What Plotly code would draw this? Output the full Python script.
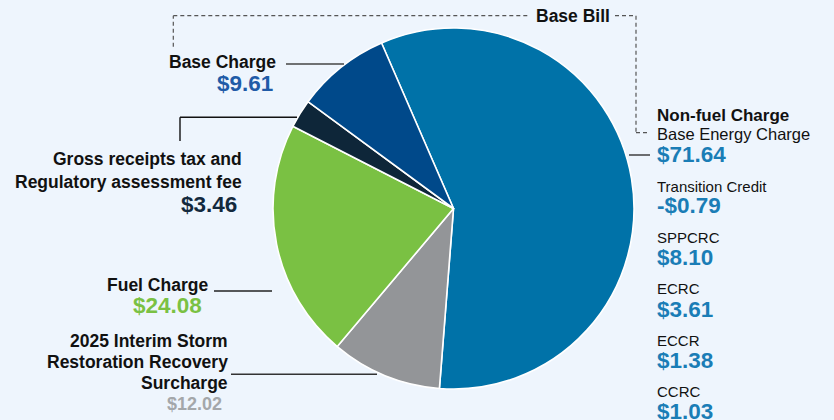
import plotly.graph_objects as go

# ---------------- data ----------------
# pie slices, clockwise from the top-left boundary
slice_names = ["Non-fuel Charge",
               "2025 Interim Storm Restoration Recovery Surcharge",
               "Fuel Charge",
               "Gross receipts tax and Regulatory assessment fee",
               "Base Charge"]
# share of the circle each slice occupies (percent)
slice_share_pct = [57.8, 9.9, 21.4, 2.55, 8.4]
slice_colors = ["#0072A8", "#939598", "#7AC143", "#0E2639", "#00498A"]

# left-hand labels and amounts
left_labels = ["Base Charge",
               "Gross receipts tax and|Regulatory assessment fee",
               "Fuel Charge",
               "2025 Interim Storm|Restoration Recovery|Surcharge"]
left_amounts = [9.61, 3.46, 24.08, 12.02]
left_amount_colors = ["#1F5BA7", "#13293D", "#7AC143", "#A4A7AA"]

# non-fuel components (right-hand list)
nonfuel_names = ["Base Energy Charge", "Transition Credit", "SPPCRC", "ECRC", "ECCR", "CCRC"]
nonfuel_amounts = [71.64, -0.79, 8.10, 3.61, 1.38, 1.03]

group_title = "Base Bill"
nonfuel_title = "Non-fuel Charge"

# ---------------- layout helpers ----------------
W, H = 834, 420
BG = "#EEF5FD"
FONT = "Liberation Sans, Arial, Helvetica, sans-serif"
AMT_BLUE = "#1A7DB6"


def px(x):
    return x / W


def py(y):
    return 1 - y / H


def money(v):
    return ("-$%.2f" % abs(v)) if v < 0 else ("$%.2f" % v)


annotations = []


def text(t, x, baseline, size, bold=False, color="#111111", anchor="left"):
    cy = baseline - 0.35 * size
    annotations.append(dict(
        text=("<b>%s</b>" % t) if bold else t,
        x=px(x), y=py(cy), xref="paper", yref="paper",
        xanchor=anchor, yanchor="middle", showarrow=False,
        font=dict(family=FONT, size=size, color=color),
    ))


fig = go.Figure()
fig.add_trace(go.Pie(
    labels=slice_names, values=slice_share_pct, sort=False,
    direction="clockwise", rotation=-23.5,
    marker=dict(colors=slice_colors, line=dict(color="white", width=1.6)),
    textinfo="none", hoverinfo="label", showlegend=False,
    domain=dict(x=[px(273), px(634)], y=[py(389), py(28)]),
))

# ---- left labels ----
left_pos = [  # (label right edge, first baseline, line step, amount right edge, amount baseline, amount size)
    (278, 68.3, 22.7, 275, 91.7, 22.5),
    (244, 165.0, 22.7, 239, 212.0, 22.5),
    (210, 291.0, 22.7, 203.5, 313.3, 22.5),
    (230, 346.7, 21.3, 223.5, 410.7, 18),
]
for lab, amt, col, (rx, b0, step, ax, ab, asz) in zip(left_labels, left_amounts, left_amount_colors, left_pos):
    for i, line in enumerate(lab.split("|")):
        text(line, rx, b0 + i * step, 17.5, bold=True, anchor="right")
    text(money(amt), ax, ab, asz, bold=True, color=col, anchor="right")

# ---- right labels ----
RX = 655
text(nonfuel_title, RX, 121, 17, bold=True)
right_label_base = [140, 192, 242.7, 294, 345.3, 396.7]
right_amt_base = [162.7, 213.5, 265, 317.3, 368.7, 419]
for i, (n, v) in enumerate(zip(nonfuel_names, nonfuel_amounts)):
    text(n, RX, right_label_base[i], 16.5 if i == 0 else 15)
    text(money(v), RX, right_amt_base[i], 22.5, bold=True, color=AMT_BLUE)

# ---- group title ----
text(group_title, 534, 22.3, 17.5, bold=True, color="#111111")

# ---- leader lines ----
shapes = []
LC = "#333333"


def seg(x0, y0, x1, y1, color=LC, width=1.4, dash=None):
    shapes.append(dict(type="line", xref="paper", yref="paper",
                       x0=px(x0), y0=py(y0), x1=px(x1), y1=py(y1),
                       line=dict(color=color, width=width, dash=dash)))


seg(286, 64, 344, 64, color="#444444")
seg(180, 141, 180, 117.3, color="#111111")
seg(180, 117.3, 297, 117.3, color="#111111")
seg(214, 291, 272, 291, color="#222222")
seg(231, 374.3, 377, 374.3, color="#333333")
seg(629, 155, 650, 155, color="#333333")

DASH = "4px,3px"
DC = "#555555"
seg(173.3, 46.7, 173.3, 15.7, color=DC, width=1.2, dash=DASH)
seg(173.3, 15.7, 529, 15.7, color=DC, width=1.2, dash=DASH)
seg(615, 15.7, 636, 15.7, color=DC, width=1.2, dash=DASH)
seg(636, 15.7, 636, 132.7, color=DC, width=1.2, dash=DASH)
seg(636, 132.7, 650, 132.7, color=DC, width=1.2, dash=DASH)

fig.update_layout(
    width=W, height=H,
    margin=dict(l=0, r=0, t=0, b=0),
    paper_bgcolor=BG, plot_bgcolor=BG,
    annotations=annotations, shapes=shapes,
    showlegend=False,
)

fig.write_html(
    "out.html",
    config={"displayModeBar": False},
    post_script="document.body.style.margin='0';document.body.style.padding='0';"
                "document.body.style.background='%s';" % BG,
)
